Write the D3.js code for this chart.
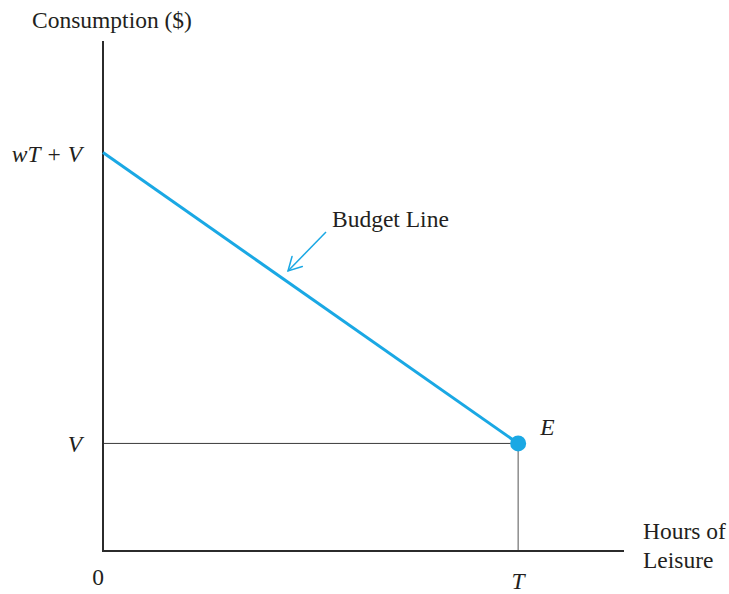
<!DOCTYPE html>
<html>
<head>
<meta charset="utf-8">
<script src="https://cdn.jsdelivr.net/npm/d3@7"></script>
<style>
  body { margin: 0; background: #fff; }
  text { font-family: "Liberation Serif", "DejaVu Serif", serif; fill: #231f20; }
</style>
</head>
<body>
<svg id="chart" width="729" height="594"></svg>
<script>
// conceptual budget constraint: leisure hours vs consumption
var leisureT = 100;      // total hours available (T)
var incomeV = 27;        // non-labour income (V)
var wage = 0.73;         // w, so wT + V = 100
var domainX = [0, 125.5];
var domainY = [0, 128];

var budgetPoints = [
    { leisure: 0, consumption: wage * leisureT + incomeV },
    { leisure: leisureT, consumption: incomeV },
];
var yTickLabels = [
    { value: wage * leisureT + incomeV, label: 'wT + V' },
    { value: incomeV, label: 'V' },
];
var xTickLabels = [
    { value: 0, label: '0', italic: false },
    { value: leisureT, label: 'T', italic: true },
];

var fs = 23.5;
var svg = d3.select('#chart');
var x = d3.scaleLinear().domain(domainX).range([103, 624]);
var y = d3.scaleLinear().domain(domainY).range([551, 41]);
var blue = '#1aa8e4';

// guide lines to E
svg.append('line')
    .attr('x1', x(0)).attr('x2', x(leisureT))
    .attr('y1', y(incomeV)).attr('y2', y(incomeV))
    .attr('stroke', '#3a3a3a').attr('stroke-width', 1);
svg.append('line')
    .attr('x1', x(leisureT)).attr('x2', x(leisureT))
    .attr('y1', y(incomeV)).attr('y2', y(0))
    .attr('stroke', '#555').attr('stroke-width', 1);

// axes
svg.append('path')
    .attr('d', 'M' + x(0) + ',' + y(domainY[1]) + 'V' + y(0) + 'H' + x(domainX[1]))
    .attr('fill', 'none')
    .attr('stroke', '#2b2b2b')
    .attr('stroke-width', 2);

// budget line
var line = d3.line()
    .x(function (d) { return x(d.leisure); })
    .y(function (d) { return y(d.consumption); });
svg.append('path')
    .datum(budgetPoints)
    .attr('d', line)
    .attr('fill', 'none')
    .attr('stroke', blue)
    .attr('stroke-width', 3);

// point E
svg.append('circle')
    .attr('cx', x(leisureT)).attr('cy', y(incomeV))
    .attr('r', 8)
    .attr('fill', blue);
svg.append('text')
    .attr('x', x(leisureT) + 22).attr('y', y(incomeV) - 8)
    .attr('font-size', fs).attr('font-style', 'italic')
    .text('E');

// y labels
svg.selectAll('.ylab')
    .data(yTickLabels)
    .enter()
    .append('text')
    .attr('class', 'ylab')
    .attr('x', 82)
    .attr('y', function (d) { return y(d.value) + 9; })
    .attr('text-anchor', 'end')
    .attr('font-size', fs)
    .attr('font-style', 'italic')
    .text(function (d) { return d.label; });

// x labels
svg.selectAll('.xlab')
    .data(xTickLabels)
    .enter()
    .append('text')
    .attr('class', 'xlab')
    .attr('x', function (d) { return x(d.value) - (d.value === 0 ? 5 : 0); })
    .attr('y', function (d) { return d.italic ? 589 : 585; })
    .attr('text-anchor', 'middle')
    .attr('font-size', fs)
    .attr('font-style', function (d) { return d.italic ? 'italic' : 'normal'; })
    .text(function (d) { return d.label; });

// axis titles
svg.append('text')
    .attr('x', 32).attr('y', 28)
    .attr('font-size', fs)
    .text('Consumption ($)');
var xt = svg.append('text').attr('font-size', fs);
xt.append('tspan').attr('x', 643).attr('y', 539).text('Hours of');
xt.append('tspan').attr('x', 643).attr('y', 568).text('Leisure');

// budget line annotation
svg.append('text')
    .attr('x', 332).attr('y', 227)
    .attr('font-size', fs)
    .text('Budget Line');
var tip = [288, 271];
svg.append('path')
    .attr('d', 'M326,232L' + tip.join(','))
    .attr('fill', 'none')
    .attr('stroke', blue)
    .attr('stroke-width', 1.5);
var ang = Math.atan2(232 - tip[1], 326 - tip[0]);
var head = [ang - 0.5, ang + 0.5].map(function (a) {
    return [tip[0] + 15 * Math.cos(a), tip[1] + 15 * Math.sin(a)];
});
svg.append('path')
    .attr('d', 'M' + head[0].join(',') + 'L' + tip.join(',') + 'L' + head[1].join(','))
    .attr('fill', 'none')
    .attr('stroke', blue)
    .attr('stroke-width', 1.5)
    .attr('stroke-linecap', 'round');
</script>
</body>
</html>
